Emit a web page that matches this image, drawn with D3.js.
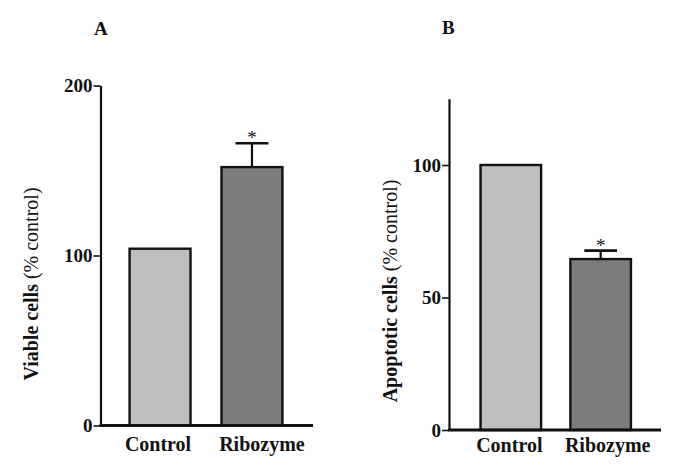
<!DOCTYPE html>
<html>
<head>
<meta charset="utf-8">
<script src="https://cdn.jsdelivr.net/npm/d3@7/dist/d3.min.js"></script>
<style>
  html, body { margin: 0; padding: 0; background: #fff; }
  svg { display: block; }
</style>
</head>
<body>
<svg id="chart" width="685" height="476"></svg>
<script>
// ---- data ----
const categories = ["Control", "Ribozyme"];
const viableValues = [104, 152];
const viableErrors = [0, 14];
const apoptoticValues = [100, 64.5];
const apoptoticErrors = [0, 3.2];
const viableTicks = [0, 100, 200];
const apoptoticTicks = [0, 50, 100];
const significance = ["", "*"];
const panelLetters = ["A", "B"];
const yTitlesBold = ["Viable cells", "Apoptotic cells"];
const yTitleRest = " (% control)";

const FONT = "Liberation Serif";
const fills = ["#bfbfbf", "#7c7c7c"];
const svg = d3.select("#chart");

const panels = [
  {
    letter: panelLetters[0], values: viableValues, errors: viableErrors, ticks: viableTicks,
    yDomain: [0, 200], yRange: [425.5, 85.5], xRange: [102, 310], axisX: 100.5, baseEnd: 313,
    inner: 0.337, labelDx: [-2, 10], labelY: 451, titleX: 38, titleY: 284, letterX: 94, letterY: 35,
    title: yTitlesBold[0]
  },
  {
    letter: panelLetters[1], values: apoptoticValues, errors: apoptoticErrors, ticks: apoptoticTicks,
    yDomain: [0, 125], yRange: [430, 98.75], xRange: [453.6, 657.9], axisX: 449, baseEnd: 661,
    inner: 0.326, labelDx: [-1.5, 7], labelY: 452, titleX: 396.5, titleY: 291, letterX: 442, letterY: 34,
    title: yTitlesBold[1]
  }
];

panels.forEach(p => {
  const g = svg.append("g");
  const x = d3.scaleBand().domain(categories).range(p.xRange).paddingInner(p.inner).paddingOuter(0.3);
  const y = d3.scaleLinear().domain(p.yDomain).range(p.yRange);

  // y axis
  const ax = g.append("g")
    .attr("transform", `translate(${p.axisX},0)`)
    .call(d3.axisLeft(y).tickValues(p.ticks).tickSize(7).tickSizeOuter(0).tickPadding(1).tickFormat(d3.format("d")));
  ax.attr("font-family", FONT).attr("font-size", 19).attr("font-weight", "bold");
  ax.select(".domain").attr("stroke", "#111").attr("stroke-width", 2.2);
  ax.selectAll(".tick line").attr("stroke", "#111").attr("stroke-width", 1.6);
  ax.selectAll(".tick text")
    .attr("font-family", FONT).attr("font-weight", "bold").attr("font-size", 19).attr("fill", "#111");

  // bars
  g.selectAll("rect.bar").data(categories).join("rect")
    .attr("class", "bar")
    .attr("x", d => x(d))
    .attr("width", x.bandwidth())
    .attr("y", (d, i) => y(p.values[i]))
    .attr("height", (d, i) => y(0) - y(p.values[i]))
    .attr("fill", (d, i) => fills[i])
    .attr("stroke", "#111").attr("stroke-width", 2.4);

  // error bars
  categories.forEach((c, i) => {
    if (!p.errors[i]) return;
    const cx = x(c) + x.bandwidth() / 2;
    const top = y(p.values[i] + p.errors[i]);
    g.append("line").attr("x1", cx).attr("x2", cx)
      .attr("y1", y(p.values[i])).attr("y2", top)
      .attr("stroke", "#111").attr("stroke-width", 2.2);
    const capHalf = x.bandwidth() * 0.27;
    g.append("line").attr("x1", cx - capHalf).attr("x2", cx + capHalf)
      .attr("y1", top).attr("y2", top)
      .attr("stroke", "#111").attr("stroke-width", 2.6);
    if (significance[i]) {
      g.append("text").attr("x", cx).attr("y", top + 1)
        .attr("text-anchor", "middle")
        .attr("font-family", FONT).attr("font-size", 19).attr("fill", "#111")
        .text(significance[i]);
    }
  });

  // baseline
  g.append("line").attr("x1", p.axisX - 1).attr("x2", p.baseEnd)
    .attr("y1", y(0)).attr("y2", y(0))
    .attr("stroke", "#111").attr("stroke-width", 3);

  // x labels
  g.selectAll("text.xl").data(categories).join("text")
    .attr("class", "xl")
    .attr("x", (d, i) => x(d) + x.bandwidth() / 2 + p.labelDx[i])
    .attr("y", p.labelY)
    .attr("text-anchor", "middle")
    .attr("font-family", FONT).attr("font-weight", "bold").attr("font-size", 20).attr("fill", "#111")
    .text(d => d);

  // y title
  const t = g.append("text")
    .attr("transform", `translate(${p.titleX},${p.titleY}) rotate(-90)`)
    .attr("text-anchor", "middle")
    .attr("font-family", FONT).attr("font-size", 20).attr("fill", "#111");
  t.append("tspan").attr("font-family", FONT).attr("font-weight", "bold").text(p.title);
  t.append("tspan").attr("font-family", FONT).attr("font-weight", "normal").text(yTitleRest);

  // panel letter
  g.append("text").attr("x", p.letterX).attr("y", p.letterY)
    .attr("font-family", FONT).attr("font-weight", "bold").attr("font-size", 19).attr("fill", "#111")
    .text(p.letter);
});
</script>
</body>
</html>
